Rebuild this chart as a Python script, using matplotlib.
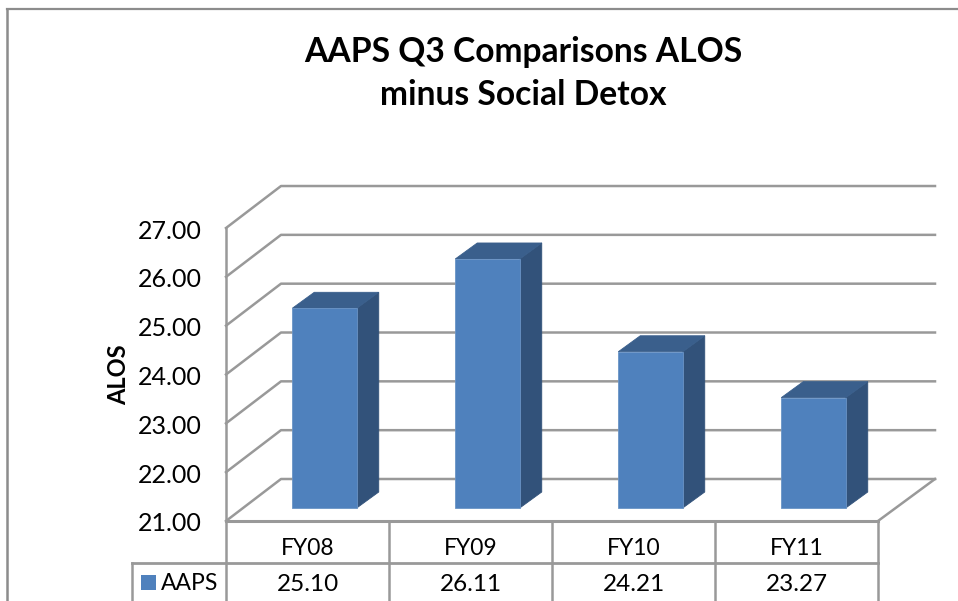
import matplotlib
matplotlib.use("Agg")
import matplotlib.pyplot as plt
from matplotlib.patches import Polygon, Rectangle
from matplotlib.lines import Line2D

categories = ["FY08", "FY09", "FY10", "FY11"]
values = [25.10, 26.11, 24.21, 23.27]
value_labels = ["25.10", "26.11", "24.21", "23.27"]
series_name = "AAPS"
y_ticks = [21, 22, 23, 24, 25, 26, 27]

W, H = 958, 601
plt.rcParams['font.family'] = ['Lato', 'DejaVu Sans']

fig = plt.figure(figsize=(W / 100, H / 100), dpi=100)
ax = fig.add_axes([0, 0, 1, 1])
ax.set_axis_off()

# category unit = 163 px, value unit = 48.83 px
PX, PY = 163.0, 48.83
X0, Y0 = 226.0, 521.0
ax.set_xlim(-X0 / PX, (W - X0) / PX)
ax.set_ylim(21 - (H - Y0) / PY, 21 + Y0 / PY)

def dx(p): return p / PX
def dy(p): return p / PY

GRID = '#999999'
FRAME = '#8c8c8c'
TXT = 'black'
n = len(categories)
ymin, ymax = y_ticks[0], y_ticks[-1]
DX, DY = dx(55), dy(42)
RIGHT = dx(57)

# outer frame
ftop = 21 + (Y0 - 9) / PY
ax.add_line(Line2D([dx(7 - X0)] * 2, [21 - (H - Y0) / PY, ftop], color=FRAME, lw=1.8))
ax.add_line(Line2D([dx(7 - X0), (W - X0) / PX], [ftop, ftop], color=FRAME, lw=1.6))

# walls
for t in y_ticks:
    ax.add_line(Line2D([0, DX, n + RIGHT], [t, t + DY, t + DY], color=GRID, lw=1.8, zorder=1))
ax.add_line(Line2D([0, 0], [ymin, ymax], color=GRID, lw=1.8, zorder=1))
ax.add_line(Line2D([0, n], [ymin, ymin], color=GRID, lw=2.2, zorder=1))
ax.add_line(Line2D([n, n + RIGHT], [ymin, ymin + DY], color=GRID, lw=1.8, zorder=1))

# bars
BW = 64.5 / PX
OX, OY = dx(18), dy(12.5)
SX, SY = dx(22), dy(16)
for i, v in enumerate(values):
    l = i + 0.5 - BW / 2 + OX - dx(1)
    r = l + BW
    b = ymin + dy(13)
    t = v + OY
    ax.add_patch(Polygon([[r, b], [r + SX, b + SY], [r + SX, t + SY], [r, t]], fc='#32527a', ec='#32527a', lw=0.6, zorder=3))
    ax.add_patch(Polygon([[l, t], [r, t], [r + SX, t + SY], [l + SX, t + SY]], fc='#3a5f8c', ec='#3a5f8c', lw=0.6, zorder=3))
    ax.add_patch(Rectangle((l, b), BW, t - b, fc='#4f81bd', ec='#6a94c6', lw=0.6, zorder=4))

# y tick labels
for t in y_ticks:
    ax.text(dx(-24), t - dy(1), f"{t:.2f}", ha='right', va='center_baseline', fontsize=18, color=TXT)
ax.text(dx(119 - X0), 21 + (521 - 375) / PY, "ALOS", rotation=90, ha='center', va='center',
        fontsize=17, fontweight='bold', color=TXT)

# title
ax.text(dx(523 - X0), 21 + (521 - 52) / PY, "AAPS Q3 Comparisons ALOS", ha='center', va='center',
        fontsize=24.2, fontweight='bold', color=TXT)
ax.text(dx(523 - X0), 21 + (521 - 95) / PY, "minus Social Detox", ha='center', va='center',
        fontsize=24.2, fontweight='bold', color=TXT)

# data table
row1 = ymin - dy(42)
bottom = 21 - (H - Y0) / PY
for i in range(n + 1):
    ax.add_line(Line2D([i, i], [ymin, bottom], color=GRID, lw=1.8, zorder=2))
key = dx(132 - X0)
ax.add_line(Line2D([key, n], [row1, row1], color=GRID, lw=2.0, zorder=2))
ax.add_line(Line2D([key, key], [row1, bottom], color=GRID, lw=1.8, zorder=2))
for i, (c, s) in enumerate(zip(categories, value_labels)):
    ax.text(i + 0.5, ymin - dy(26), c, ha='center', va='center_baseline', fontsize=16.5, color=TXT)
    ax.text(i + 0.5, ymin - dy(61.5), s, ha='center', va='center_baseline', fontsize=17.5, color=TXT)
ax.add_patch(Rectangle((dx(141 - X0), ymin - dy(69)), dx(15), dy(15), fc='#4f81bd', ec='none'))
ax.text(dx(218 - X0), ymin - dy(61), series_name, ha='right', va='center_baseline', fontsize=16.5, color=TXT)

fig.savefig("out.png", dpi=100)
